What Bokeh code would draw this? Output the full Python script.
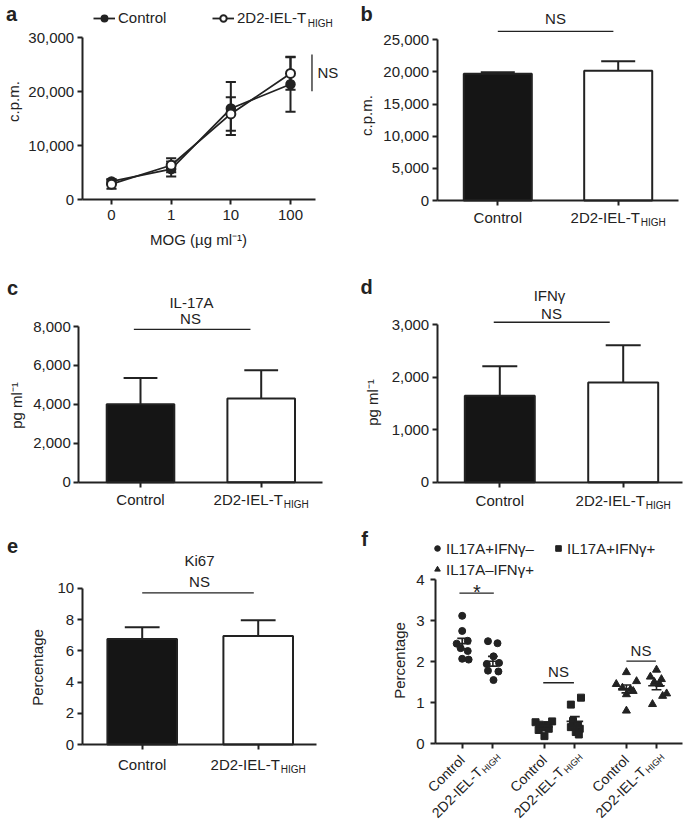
from math import pi, sqrt
import numpy as np
from bokeh.plotting import figure
from bokeh.layouts import column, row
from bokeh.models import Range1d, FixedTicker, NumeralTickFormatter, Label, Legend, LegendItem
from bokeh.core.properties import value
from bokeh.embed import file_html
from bokeh.resources import INLINE

# ---------------- data ----------------
# a: proliferation vs MOG dose
mog_doses = ["0", "1", "10", "100"]
a_control = [3400, 5700, 16900, 21400]
a_control_sem = [400, 1400, 4900, 5100]
a_thigh = [2900, 6400, 15900, 23400]
a_thigh_sem = [850, 1300, 3100, 3000]

# bar panels
group_main = ["Control", "2D2-IEL-T"]
group_sub = ["", "HIGH"]
b_cpm = [19700, 20200]
b_cpm_sem = [250, 1450]
c_il17a = [4000, 4300]
c_il17a_sem = [1350, 1450]
d_ifng = [1650, 1900]
d_ifng_sem = [560, 710]
e_ki67 = [6.75, 6.95]
e_ki67_sem = [0.75, 1.0]

# f: percentages of cytokine-producing cells
f_subsets = ["IL17A+IFNγ–", "IL17A+IFNγ+", "IL17A–IFNγ+"]
f_p1_control = [3.12, 2.75, 2.51, 2.44, 2.33, 2.26, 2.07, 2.05]
f_p1_thigh = [2.50, 2.45, 2.13, 1.94, 1.97, 1.78, 1.76, 1.55]
f_p2_control = [0.52, 0.54, 0.46, 0.45, 0.39, 0.36, 0.33, 0.18]
f_p2_thigh = [1.12, 0.95, 0.55, 0.45, 0.40, 0.36, 0.28, 0.22]
f_p3_control = [1.74, 1.52, 1.45, 1.36, 1.32, 1.28, 1.20, 0.80]
f_p3_thigh = [1.80, 1.63, 1.57, 1.50, 1.45, 1.22, 1.16, 0.96]
# horizontal scatter (jitter) of the dots, in category units
f_j1_control = [0, 0, 0.18, -0.18, -0.05, 0.18, 0, 0.21]
f_j1_thigh = [-0.16, 0.15, 0.02, -0.2, 0.2, -0.16, 0.18, 0.02]
f_j2_control = [-0.29, 0.25, -0.15, 0.09, -0.05, 0.14, -0.19, 0]
f_j2_thigh = [0.2, -0.13, -0.06, 0.1, -0.13, 0.16, 0.03, 0.13]
f_j3_control = [0, 0.33, -0.33, -0.13, 0.13, 0.22, 0, 0]
f_j3_thigh = [0, -0.2, 0.16, -0.07, 0.1, 0.33, 0.2, -0.13]

# ---------------- styling helpers ----------------
INK = "#222222"
FONT = "Liberation Sans"
W_ARIAL = {'2': 556, 'D': 722, '-': 333, 'I': 278, 'E': 667, 'L': 556, 'T': 611,
           'H': 722, 'G': 778, 'C': 722, 'o': 556, 'n': 556, 't': 278, 'r': 333, 'l': 222}


def tw(s, size):
    return sum(W_ARIAL.get(ch, 556) for ch in s) * size / 1000.0


class Panel:
    """A figure whose frame fills its whole canvas; axes are pinned with fixed_location."""

    def __init__(self, ox, oy, W, H, xmap, ymap, yaxis_px, xaxis_end_px, ytop, yticks, fmt=None):
        self.ox, self.oy, self.W, self.H = ox, oy, W, H
        pa, da, pb, db = xmap
        self.kx = (db - da) / (pb - pa)
        self._xa = (pa, da)
        qa, ea, qb, eb = ymap
        self.ky = (eb - ea) / (qb - qa)
        self._ya = (qa, ea)
        p = figure(width=W, height=H,
                   x_range=Range1d(self.fx(ox), self.fx(ox + W)),
                   y_range=Range1d(self.fy(oy + H), self.fy(oy)),
                   output_backend="svg", toolbar_location=None, min_border=0,
                   min_border_left=0, min_border_right=0, min_border_top=0, min_border_bottom=0,
                   background_fill_color="white", border_fill_color="white")
        p.outline_line_color = None
        p.xgrid.visible = False
        p.ygrid.visible = False
        for ax in p.axis:
            ax.axis_line_width = 2
            ax.axis_line_color = INK
            ax.major_tick_line_width = 2
            ax.major_tick_line_color = INK
            ax.major_tick_in = 0
            ax.major_tick_out = 5
            ax.minor_tick_line_color = None
            ax.major_label_text_font = FONT
            ax.major_label_text_font_size = "15px"
            ax.major_label_text_color = INK
            ax.major_label_standoff = 3
            ax.axis_label_text_font = FONT
            ax.axis_label_text_font_style = "normal"
            ax.axis_label_text_font_size = "15px"
            ax.axis_label_text_color = INK
        x_left = self.fx(yaxis_px)
        p.yaxis.fixed_location = x_left
        p.xaxis.fixed_location = 0
        p.yaxis.bounds = (0, ytop)
        p.xaxis.bounds = (x_left, self.fx(xaxis_end_px))
        p.yaxis.ticker = FixedTicker(ticks=yticks)
        if fmt:
            p.yaxis.formatter = NumeralTickFormatter(format=fmt)
        self.p = p

    def fx(self, px):
        return self._xa[1] + (px - self._xa[0]) * self.kx

    def fy(self, py):
        return self._ya[1] + (py - self._ya[0]) * self.ky

    def txt(self, px, py, text, size=15, align="center", baseline="middle", angle=0.0, bold=False):
        self.p.add_layout(Label(x=self.fx(px), y=self.fy(py), text=text, text_font=FONT,
                                text_font_size=f"{size}px", text_color=INK,
                                text_font_style="bold" if bold else "normal",
                                text_align=align, text_baseline=baseline, angle=angle))

    def tick_txt(self, xd, dx, dy, text, size=15, align="center", angle=0.0):
        self.p.add_layout(Label(x=xd, y=0, x_offset=dx, y_offset=-dy, text=text, text_font=FONT,
                                text_font_size=f"{size}px", text_color=INK,
                                text_align=align, text_baseline="middle", angle=angle))

    def hide_x_labels(self, ticks):
        self.p.xaxis.ticker = FixedTicker(ticks=list(ticks))
        self.p.xaxis.major_label_overrides = {t: "" for t in ticks}

    def legend(self, renderers, label, glyph_left, center_y, gw, gh, standoff, fs=15):
        leg = Legend(items=[LegendItem(label=value(label), renderers=renderers)],
                     location=(glyph_left - self.ox, self.oy + self.H - (center_y + gh / 2)),
                     orientation="horizontal", glyph_width=gw, glyph_height=gh,
                     label_height=gh, label_width=10, label_standoff=standoff,
                     padding=0, margin=0, spacing=0,
                     border_line_color=None, background_fill_alpha=0,
                     label_text_font=FONT, label_text_font_size=f"{fs}px", label_text_color=INK)
        self.p.add_layout(leg)

    def hline(self, x0, x1, y):
        self.p.segment(x0=[x0], y0=[y], x1=[x1], y1=[y], line_color=INK, line_width=1.3)


def group_labels(P, xs, dy):
    P.tick_txt(xs[0], 0, dy, group_main[0])
    w1 = tw(group_main[1], 15)
    w2 = tw(group_sub[1], 10)
    left = -(w1 + 1 + w2) / 2
    P.tick_txt(xs[1], left + w1, dy, group_main[1], align="right")
    P.tick_txt(xs[1], left + w1 + 1, dy + 5, group_sub[1], size=10, align="left")


def rot_labels(P, xc, xt):
    P.tick_txt(xc, 0, 14, group_main[0], size=14, align="right", angle=pi / 4)
    px, py = -13, 26
    P.tick_txt(xt, px, py, group_main[1], size=14, align="right", angle=pi / 4)
    P.tick_txt(xt, px + 3.5, py + 2.1, group_sub[1], size=9, align="left", angle=pi / 4)


def bars(P, vals, sems, bar_w, label_dy):
    p = P.p
    xs = [0, 1]
    p.vbar(x=xs, top=vals, bottom=0, width=bar_w, fill_color=["#151515", "white"],
           line_color=INK, line_width=2)
    tops = [v + s for v, s in zip(vals, sems)]
    cw = bar_w / 4
    p.segment(x0=xs, y0=vals, x1=xs, y1=tops, line_color=INK, line_width=2)
    p.segment(x0=[x - cw for x in xs], y0=tops, x1=[x + cw for x in xs], y1=tops,
              line_color=INK, line_width=2)
    P.hide_x_labels(xs)
    group_labels(P, xs, label_dy)


# page grid (page pixels)
COL_X = (0, 340, 684)
ROW_Y = (0, 262, 525, 830)

# ---------------- panel a ----------------
A = Panel(COL_X[0], ROW_Y[0], COL_X[1] - COL_X[0], ROW_Y[1] - ROW_Y[0],
          (111, 0, 290, 3), (199.3, 0, 37.3, 30000), 81.7, 315,
          30000, [0, 10000, 20000, 30000], "0,0")
pa = A.p
xa = list(range(len(mog_doses)))
for vals, sems in ((a_control, a_control_sem), (a_thigh, a_thigh_sem)):
    lo = [v - s for v, s in zip(vals, sems)]
    hi = [v + s for v, s in zip(vals, sems)]
    pa.segment(x0=xa, y0=lo, x1=xa, y1=hi, line_color=INK, line_width=2)
    pa.segment(x0=[x - 0.085 for x in xa], y0=lo, x1=[x + 0.085 for x in xa], y1=lo, line_color=INK, line_width=2)
    pa.segment(x0=[x - 0.085 for x in xa], y0=hi, x1=[x + 0.085 for x in xa], y1=hi, line_color=INK, line_width=2)
lc = pa.line(xa, a_control, line_color=INK, line_width=1.8)
lt = pa.line(xa, a_thigh, line_color=INK, line_width=1.8)
sc = pa.scatter(xa, a_control, marker="circle", size=9, fill_color=INK, line_color=INK, line_width=1.5)
st = pa.scatter(xa, a_thigh, marker="circle", size=9, fill_color="white", line_color=INK, line_width=2)
pa.xaxis.ticker = FixedTicker(ticks=xa)
pa.xaxis.major_label_overrides = {i: d for i, d in enumerate(mog_doses)}
pa.xaxis.major_label_standoff = 5
A.txt(198, 239, "MOG (µg ml⁻¹)")
pa.segment(x0=[3.36], y0=[20100], x1=[3.36], y1=[26900], line_color=INK, line_width=1.3)
A.txt(317, 72, "NS", align="left")
A.txt(11, 13, "a", size=20, bold=True)
A.txt(13, 101, "c.p.m.", angle=pi / 2)
A.legend([lc, sc], group_main[0], 93, 18, 22, 16, 3)
A.legend([lt, st], group_main[1], 212, 18, 22, 16, 3)
A.txt(237 + tw(group_main[1], 15) + 1, 23, group_sub[1], size=10, align="left")

# ---------------- panel b ----------------
B = Panel(COL_X[1], ROW_Y[0], COL_X[2] - COL_X[1], ROW_Y[1] - ROW_Y[0],
          (497.3, 0, 617.7, 1), (200, 0, 39.3, 25000), 436.7, 678,
          25000, [0, 5000, 10000, 15000, 20000, 25000], "0,0")
bars(B, b_cpm, b_cpm_sem, 0.565, 17)
B.hline(0, 0.96, 26300)
B.txt(555, 18, "NS")
B.txt(366, 13, "b", size=20, bold=True)
B.txt(366, 115, "c.p.m.", angle=pi / 2)

# ---------------- panel c ----------------
C = Panel(COL_X[0], ROW_Y[1], COL_X[1] - COL_X[0], ROW_Y[2] - ROW_Y[1],
          (140, 0, 260.7, 1), (481.7, 0, 326, 8000), 78.3, 321.7,
          8000, [0, 2000, 4000, 6000, 8000], "0,0")
bars(C, c_il17a, c_il17a_sem, 0.56, 17)
C.hline(-0.055, 0.911, 7850)
C.txt(191, 302, "IL-17A")
C.txt(190, 318, "NS")
C.txt(12, 287, "c", size=20, bold=True)
C.txt(16, 405, "pg ml⁻¹", angle=pi / 2)

# ---------------- panel d ----------------
D = Panel(COL_X[1], ROW_Y[1], COL_X[2] - COL_X[1], ROW_Y[2] - ROW_Y[1],
          (499.3, 0, 622.7, 1), (481.7, 0, 324.3, 3000), 436.7, 682,
          3000, [0, 1000, 2000, 3000], "0,0")
bars(D, d_ifng, d_ifng_sem, 0.567, 18)
D.hline(-0.049, 0.891, 3049)
D.txt(549, 295, "IFNγ")
D.txt(551, 313, "NS")
D.txt(366, 286, "d", size=20, bold=True)
D.txt(372, 402, "pg ml⁻¹", angle=pi / 2)

# ---------------- panel e ----------------
E = Panel(COL_X[0], ROW_Y[2], COL_X[1] - COL_X[0], ROW_Y[3] - ROW_Y[2],
          (141.7, 0, 257.7, 1), (744, 0, 587.75, 10), 81.7, 316,
          10, [0, 2, 4, 6, 8, 10])
bars(E, e_ki67, e_ki67_sem, 0.6, 20)
E.hline(0, 0.962, 9.71)
E.txt(199, 560, "Ki67")
E.txt(199, 581, "NS")
E.txt(12, 545, "e", size=20, bold=True)
E.txt(37, 667, "Percentage", angle=pi / 2)

# ---------------- panel f ----------------
f_pos = [0, 1, 2.68, 3.67, 5.35, 6.33]
F = Panel(COL_X[1], ROW_Y[2], COL_X[2] - COL_X[1], ROW_Y[3] - ROW_Y[2],
          (461.7, 0, 656, 6.33), (743, 0, 579.3, 4), 435, 681.5,
          4, [0, 1, 2, 3, 4])
pf = F.p
pf.yaxis.major_label_standoff = 6
f_sets = [
    (f_p1_control, f_j1_control, f_p1_thigh, f_j1_thigh, "circle", 7),
    (f_p2_control, f_j2_control, f_p2_thigh, f_j2_thigh, "square", 7),
    (f_p3_control, f_j3_control, f_p3_thigh, f_j3_thigh, "triangle", 8),
]
f_rends = []
for k, (vc, jc, vt, jt, mk, sz) in enumerate(f_sets):
    xc, xt = f_pos[2 * k], f_pos[2 * k + 1]
    xs = [xc + j for j in jc] + [xt + j for j in jt]
    ys = list(vc) + list(vt)
    r = pf.scatter(xs, ys, marker=mk, size=sz, fill_color=INK, line_color=INK)
    f_rends.append(r)
    for xg, v in ((xc, vc), (xt, vt)):
        m = float(np.mean(v))
        s = float(np.std(v, ddof=1) / sqrt(len(v)))
        pf.segment(x0=[xg - 0.27], y0=[m], x1=[xg + 0.27], y1=[m], line_color=INK, line_width=1.6)
        pf.segment(x0=[xg], y0=[m - s], x1=[xg], y1=[m + s], line_color=INK, line_width=1.6)
        pf.segment(x0=[xg - 0.16, xg - 0.16], y0=[m - s, m + s], x1=[xg + 0.16, xg + 0.16],
                   y1=[m - s, m + s], line_color=INK, line_width=1.6)
    rot_labels(F, xc, xt)
F.hide_x_labels(f_pos)
F.hline(-0.09, 1.03, 3.675)
F.hline(2.64, 3.64, 1.484)
F.hline(5.35, 6.31, 2.012)
F.txt(476.5, 591, "*", size=20)
F.txt(558, 671, "NS")
F.txt(640.5, 650, "NS")
F.txt(364, 538, "f", size=20, bold=True)
F.txt(399, 660, "Percentage", angle=pi / 2)
F.legend([f_rends[0]], f_subsets[0], 430, 548, 14, 18, 2)
F.legend([f_rends[1]], f_subsets[1], 551, 548, 14, 18, 2)
F.legend([f_rends[2]], f_subsets[2], 430, 569, 14, 18, 2)

layout = column(row(A.p, B.p), row(C.p, D.p), row(E.p, F.p))
open("out.html", "w").write(file_html(layout, INLINE))
